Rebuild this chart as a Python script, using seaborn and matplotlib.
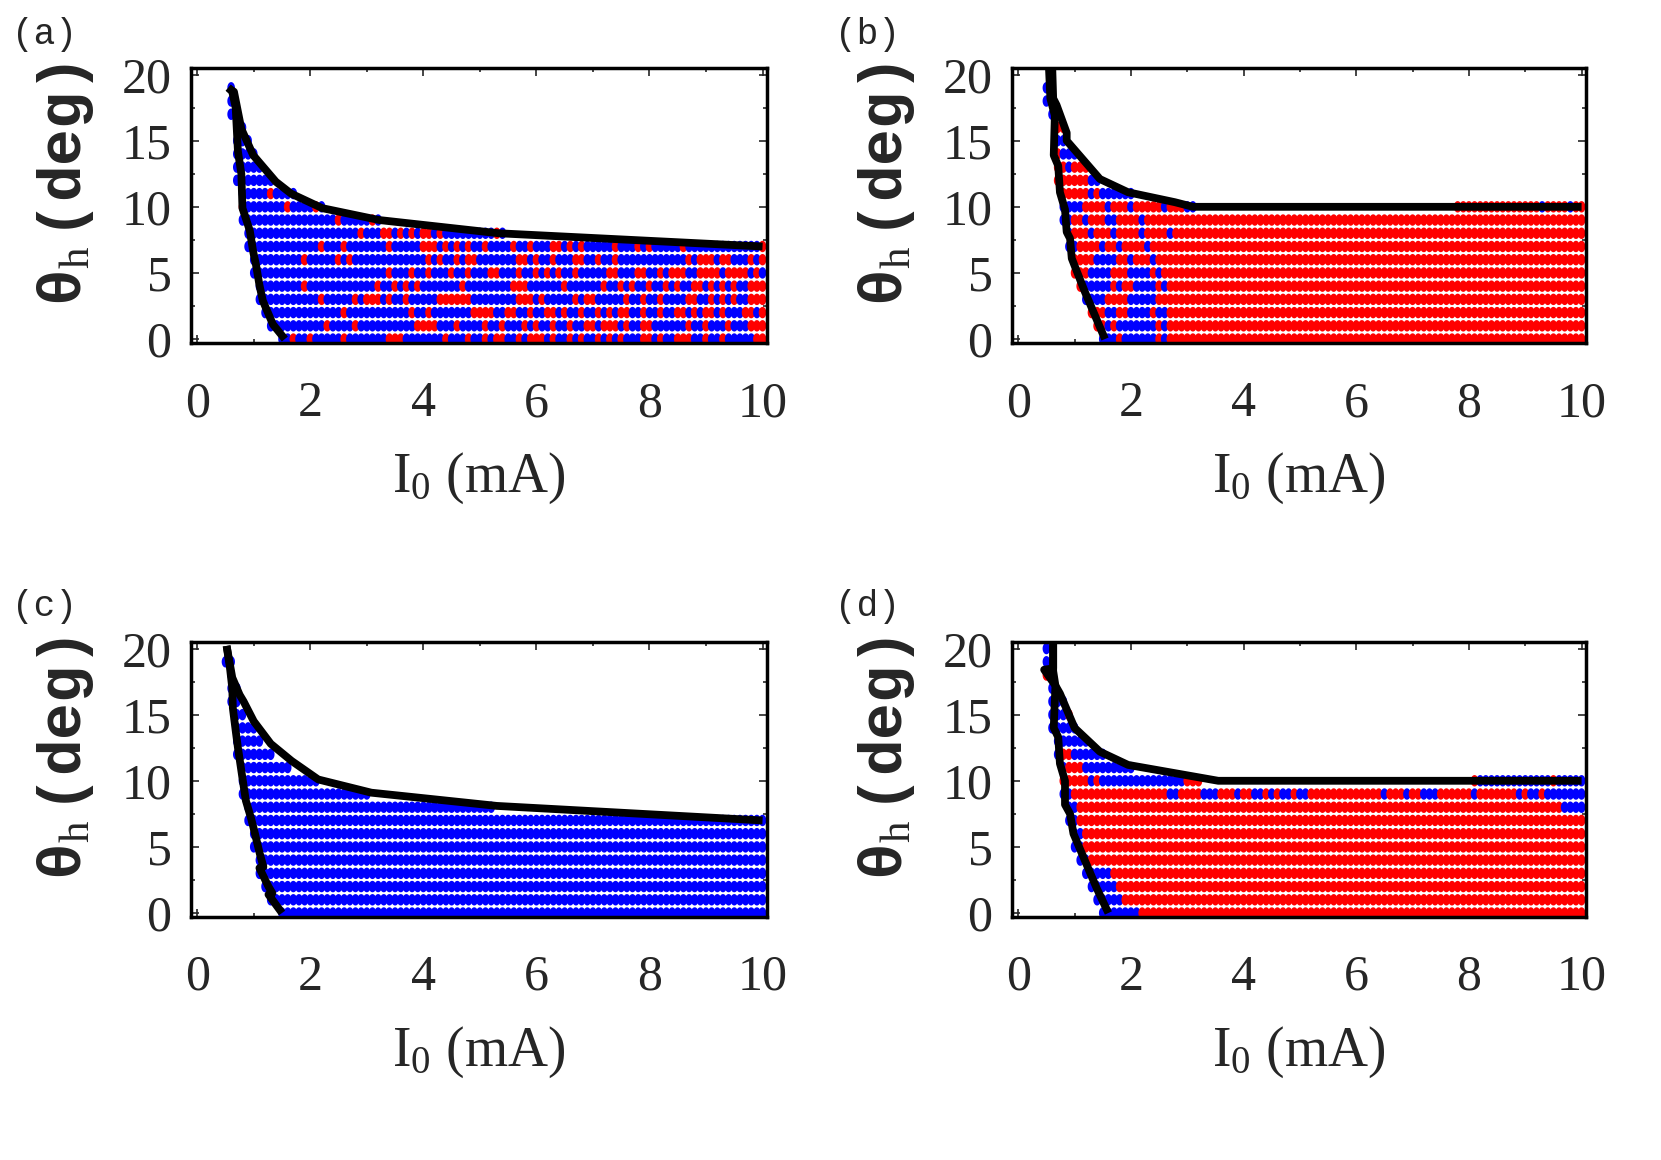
import numpy as np
import pandas as pd
import matplotlib
matplotlib.use("Agg")
import matplotlib.pyplot as plt
from matplotlib.path import Path
from matplotlib.ticker import MultipleLocator
import seaborn as sns

# grid of drive currents (mA); rows are field angles theta_h = 0, 1, 2 ... deg
I0_cols = np.round(np.arange(0, 101) * 0.1, 2)

# each row: "a:bC" paints columns a..b with colour C, "aC" one column; later tokens win
rows_a = [
    "15:100b 17r 20r 26r 34:36r 44r 48r 51r 53:54r 57r 59:61r 63r 66r 68r 71r 73r 75r 79:80r 82r 85:87r 90r 93r 99:100r",
    "13:100b 23r 28r 39:42r 46r 51r 54r 58r 60r 63r 66r 69:70r 72:74r 76r 79:80r 87r 90r 94r 98:100r",
    "12:100b 26r 38r 41r 49:52r 55:56r 59r 62:63r 65r 68r 71r 73r 75:76r 79r 82r 85:86r 88r 90:91r 93r 97:98r 100r",
    "11:100b 22r 28r 30:32r 34r 37r 43:48r 57:59r 61r 67r 69:70r 76r 79r 82r 87:88r 91r 93r 95r 98:100r",
    "11:100b 19r 32r 35r 37r 39r 47r 56:58r 65r 72r 75r 77r 80r 83r 85r 88:89r 91r 93r 95r 98:100r",
    "10:100b 34r 38r 41r 45r 48r 52:53r 57r 60r 62r 64r 67r 73:74r 78:79r 82r 84:86r 89:92r 94:97r 99r",
    "10:100b 19r 25r 27r 41r 43r 46r 48:49r 57:58r 60r 63r 67:68r 71r 74r 87r 89:91r 93:94r 98r 100r",
    "9:100b 22r 26r 34r 40:42r 44r 46r 48r 51r 56r 59r 63:64r 66r 68r 74r 78r 80r 86r 100r",
    "9:54b 29r 33:34r 36r 38r 40:41r 43r 53r",
    "8:32b 25r 31r",
    "8:22b 8r 16r 21r",
    "8:17b 13r",
    "7:13b",
    "7:11b",
    "7:10b",
    "7:9b",
    "7:8b",
    "6:7b",
    "6b",
    "6b",
]
rows_b = [
    "15:100r 15:17b 19:24b 26b",
    "14:100r 16b 18:24b 26b",
    "13:100r 16:17b 20:23b 25:26b",
    "12:100r 12:15b 20:24b",
    "11:100r 12:16b 18b 21:24b 26b",
    "10:100r 13:16b 20:23b 25b",
    "10:100r 14:17b 20b 24b",
    "9:100r 9:10b 15b 18b 23b",
    "9:100r 9b 13b 17b 22b 27b",
    "8:100r 8:9b 12b 16:17b 22b",
    "8:31r 8:11b 16b 20b 26b 30:31b 78:100r 93b 98b",
    "8:20b 8:12r 14r",
    "7:14r 13:14b",
    "7:12r 9b",
    "7:10b 7r",
    "7:8b",
    "7:8r",
    "6b",
    "5b",
    "5b",
]
rows_c = [
    "15:100b", "13:100b", "12:100b", "11:100b", "11:100b", "10:100b", "10:100b",
    "9:100b", "9:52b", "8:30b", "8:21b", "8:16b", "7:13b", "7:11b", "7:10b",
    "7:8b", "6:7b", "6:7b", "6b", "5:6b",
]
rows_d = [
    "15:100r 15:21b",
    "14:100r 14:18b",
    "13:100r 13:17b",
    "12:100r 12:16b",
    "11:100r 11:12b",
    "10:100r 10:11b",
    "10:100r 10:11b",
    "9:100r 9:10b",
    "9:100r 9:10b 97:100b",
    "8:100r 8:9b 27:28b 33:35b 39b 42:43b 45b 47:48b 50:51b 65b 69b 72:74b 81b 89b 91:92b 94:100b",
    "8:32b 8:12r 14r 30:32r 81:100b 81r 95r",
    "8:20b 9:11r",
    "7:15b 8:9r",
    "7:12b",
    "6:10b",
    "6:9b 9r",
    "6:8b",
    "6b",
    "5r",
    "5b",
    "5b",
]

# black boundary curves (I0 in mA, theta in deg)
left_a_I = [0.55, 0.62, 0.68, 0.72, 0.78, 0.80, 0.93, 0.99, 1.04, 1.10, 1.16, 1.34, 1.55]
left_a_th = [19.0, 18.7, 17.5, 14.2, 12.5, 9.9, 8.2, 6.6, 5.6, 4.1, 2.9, 1.1, 0.0]
top_a_I = [0.55, 0.65, 0.78, 0.99, 1.39, 1.66, 2.21, 3.22, 5.33, 10.0]
top_a_th = [19.0, 18.7, 15.9, 13.9, 11.9, 11.0, 9.9, 9.0, 8.0, 7.0]

left_b_I = [0.54, 0.57, 0.65, 0.63, 0.71, 0.74, 0.83, 0.86, 0.92, 0.95, 1.18, 1.36, 1.54]
left_b_th = [21.0, 18.2, 16.9, 13.9, 13.1, 11.1, 9.8, 8.1, 7.6, 6.1, 3.6, 1.8, 0.0]
top_b_I = [0.60, 0.62, 0.68, 0.86, 0.86, 1.45, 1.95, 2.78, 3.10, 10.0]
top_b_th = [21.0, 18.2, 17.7, 15.6, 15.0, 12.1, 11.1, 10.35, 10.0, 10.0]

left_c_I = [0.52, 0.58, 0.62, 0.63, 0.68, 0.72, 0.80, 0.86, 0.95, 1.01, 1.10, 1.17, 1.10, 1.26, 1.33, 1.26, 1.50]
left_c_th = [20.2, 18.5, 17.0, 15.5, 13.8, 12.5, 10.2, 8.5, 7.2, 6.2, 4.6, 3.5, 3.4, 2.0, 1.5, 1.4, 0.0]
top_c_I = [0.52, 0.62, 0.75, 0.82, 1.00, 1.30, 1.67, 2.14, 3.08, 5.30, 10.0]
top_c_th = [20.2, 17.8, 16.5, 16.0, 14.5, 12.8, 11.5, 10.1, 9.1, 8.1, 7.0]

left_d_I = [0.62, 0.62, 0.46, 0.66, 0.63, 0.71, 0.74, 0.83, 0.83, 0.92, 0.98, 1.21, 1.39, 1.60]
left_d_th = [21.0, 18.5, 18.4, 17.2, 14.0, 13.3, 11.3, 10.0, 8.2, 7.5, 6.0, 3.7, 1.9, 0.0]
top_d_I = [0.62, 0.62, 0.66, 0.74, 1.00, 1.45, 1.95, 3.55, 10.0]
top_d_th = [21.0, 18.3, 17.2, 16.6, 14.0, 12.2, 11.2, 10.0, 10.0]

panel_labels = ["(a)", "(b)", "(c)", "(d)"]
x_ticks = [0, 2, 4, 6, 8, 10]
y_ticks = [0, 5, 10, 15, 20]

sns.set_style("ticks")
plt.rcParams["font.family"] = ["Liberation Serif", "DejaVu Serif"]
plt.rcParams["mathtext.fontset"] = "custom"
plt.rcParams["mathtext.rm"] = "Liberation Serif"
plt.rcParams["mathtext.it"] = "Liberation Serif:italic"
plt.rcParams["mathtext.bf"] = "Liberation Serif:bold"

palette = {"r": "#ff0000", "b": "#0000ff"}
t = np.linspace(0, 2 * np.pi, 40)
dot = Path(np.column_stack([np.cos(t) / 1.5, np.sin(t)]), closed=True)


def parse_rows(rows):
    recs = []
    for th, spec in enumerate(rows):
        cells = {}
        for tok in spec.split():
            a, _, b = tok[:-1].partition(":")
            for k in range(int(a), int(b or a) + 1):
                cells[k] = tok[-1]
        for k in sorted(cells):
            recs.append((I0_cols[k], th, cells[k]))
    return pd.DataFrame(recs, columns=["I0", "theta", "state"])


def draw_panel(ax, rows, left, top):
    df = parse_rows(rows)
    sns.scatterplot(data=df, x="I0", y="theta", hue="state", palette=palette,
                    marker=dot, s=68, linewidth=0, legend=False, ax=ax, zorder=2)
    for xs, ys in (left, top):
        ax.plot(xs, ys, color="k", lw=5.6, solid_capstyle="butt", zorder=3)

    ax.set_xlim(-0.11, 10.08)
    ax.set_ylim(-0.3, 20.5)
    ax.set_xticks(x_ticks)
    ax.set_yticks(y_ticks)
    ax.xaxis.set_minor_locator(MultipleLocator(1))
    ax.yaxis.set_minor_locator(MultipleLocator(2.5))
    ax.tick_params(which="both", direction="in", top=True, right=True, width=1.2)
    ax.tick_params(which="major", length=6, labelsize=36)
    ax.tick_params(which="minor", length=3)
    ax.tick_params(axis="x", pad=27)
    ax.tick_params(axis="y", pad=14)
    for sp in ax.spines.values():
        sp.set_linewidth(2.5)
        sp.set_color("k")

    ax.set_xlabel("I$_0$ (mA)", fontsize=40)
    ax.xaxis.set_label_coords(0.5, -0.39)
    ax.set_ylabel(r"θ$_{\mathrm{h}}\,$(deg)", fontsize=44, family="Liberation Mono",
                  weight="bold")
    ax.yaxis.set_label_coords(-0.165, 0.575)


fig = plt.figure(figsize=(16.61, 11.60), dpi=100)
boxes = [
    [0.1150, 0.7043, 0.3468, 0.2371],
    [0.6093, 0.7043, 0.3456, 0.2371],
    [0.1150, 0.2095, 0.3468, 0.2371],
    [0.6093, 0.2095, 0.3456, 0.2371],
]
panels = [
    (rows_a, (left_a_I, left_a_th), (top_a_I, top_a_th)),
    (rows_b, (left_b_I, left_b_th), (top_b_I, top_b_th)),
    (rows_c, (left_c_I, left_c_th), (top_c_I, top_c_th)),
    (rows_d, (left_d_I, left_d_th), (top_d_I, top_d_th)),
]
label_pos = [(0.007, 0.985), (0.503, 0.985), (0.007, 0.492), (0.503, 0.492)]

for box, (rows, left, top), lab, (lx, ly) in zip(boxes, panels, panel_labels, label_pos):
    ax = fig.add_axes(box)
    draw_panel(ax, rows, left, top)
    fig.text(lx, ly, lab, family="Liberation Mono", fontsize=26, ha="left", va="top")

fig.savefig("out.png", dpi=100)
